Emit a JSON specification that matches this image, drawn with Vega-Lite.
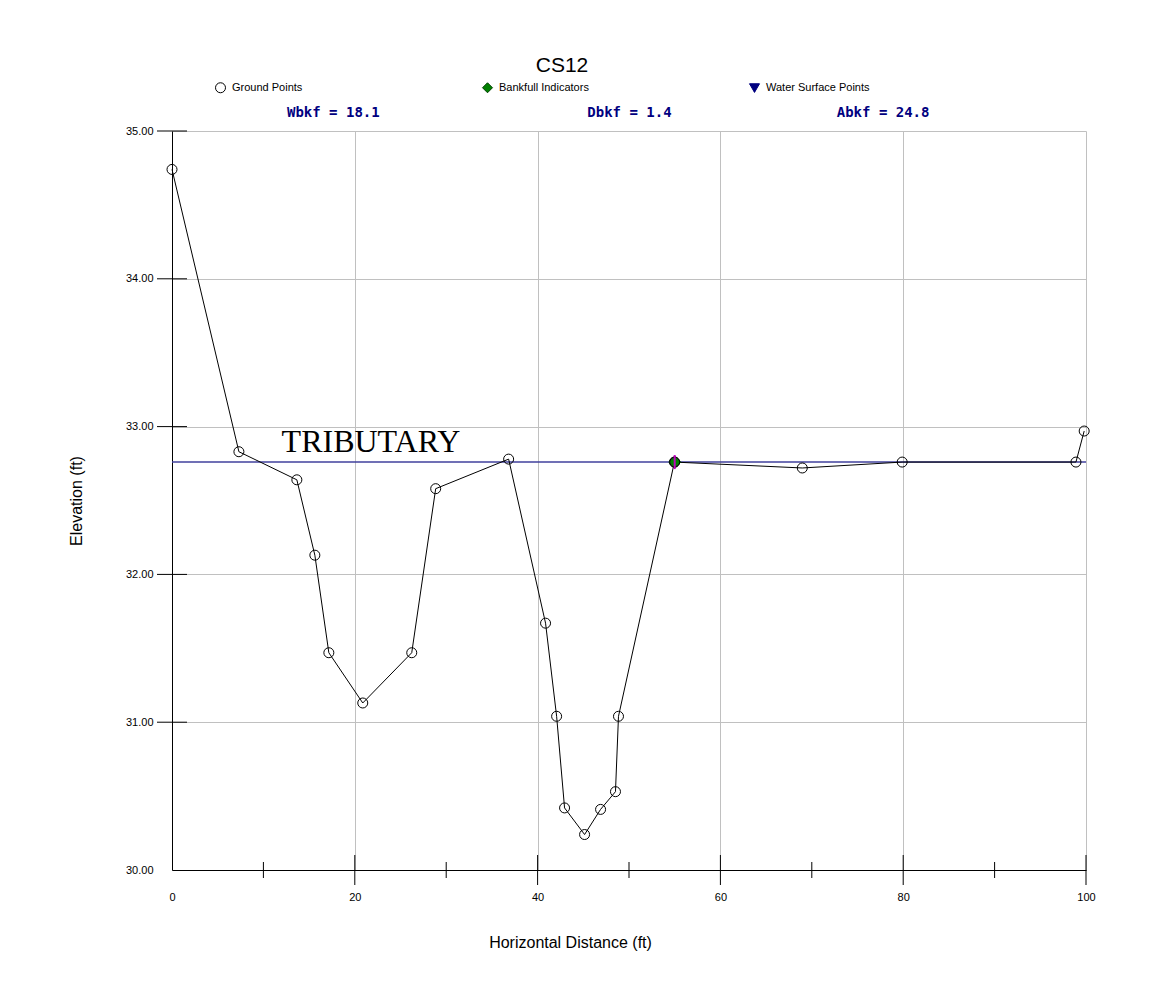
{
  "$schema": "https://vega.github.io/schema/vega-lite/v6.json",
  "width": 914,
  "height": 739,
  "autosize": {"type": "none"},
  "padding": {"left": 172, "top": 131, "right": 70, "bottom": 123},
  "background": "white",
  "title": {
    "text": "CS12",
    "font": "Liberation Sans",
    "fontSize": 21,
    "fontWeight": "normal",
    "color": "black",
    "anchor": "middle",
    "dx": -67,
    "offset": -11,
    "baseline": "alphabetic"
  },
  "config": {
    "view": {"stroke": null},
    "font": "Liberation Sans",
    "axis": {
      "domainColor": "black",
      "domainWidth": 1,
      "gridColor": "#c0c0c0",
      "gridWidth": 1,
      "tickSize": 15,
      "tickOpacity": 0,
      "labelFont": "Liberation Sans",
      "labelFontSize": 11,
      "labelColor": "black",
      "titleFont": "Liberation Sans",
      "titleFontSize": 16,
      "titleFontWeight": "normal",
      "titleColor": "black"
    }
  },
  "layer": [
    {
      "data": {"values": [{"elev": 32.76}]},
      "mark": {"type": "rule", "color": "#40409c", "strokeWidth": 1.5},
      "encoding": {"y": {"field": "elev", "type": "quantitative"}}
    },
    {
      "data": {"name": "ground", "values": [
        {"dist": 0.0, "elev": 34.74},
        {"dist": 7.32, "elev": 32.83},
        {"dist": 13.66, "elev": 32.64},
        {"dist": 15.63, "elev": 32.13},
        {"dist": 17.16, "elev": 31.47},
        {"dist": 20.87, "elev": 31.13},
        {"dist": 26.23, "elev": 31.47},
        {"dist": 28.85, "elev": 32.58},
        {"dist": 36.83, "elev": 32.78},
        {"dist": 40.87, "elev": 31.67},
        {"dist": 42.08, "elev": 31.04},
        {"dist": 42.95, "elev": 30.42},
        {"dist": 45.14, "elev": 30.24},
        {"dist": 46.89, "elev": 30.41},
        {"dist": 48.52, "elev": 30.53},
        {"dist": 48.85, "elev": 31.04},
        {"dist": 54.97, "elev": 32.76},
        {"dist": 68.96, "elev": 32.72},
        {"dist": 79.89, "elev": 32.76},
        {"dist": 98.9, "elev": 32.76},
        {"dist": 99.8, "elev": 32.97}
      ]},
      "layer": [
        {
          "mark": {"type": "line", "color": "black", "strokeWidth": 1},
          "encoding": {
            "x": {
              "field": "dist",
              "type": "quantitative",
              "scale": {"domain": [0, 100], "nice": false, "zero": false},
              "axis": {
                "title": "Horizontal Distance (ft)",
                "values": [0, 20, 40, 60, 80, 100],
                "grid": true,
                "labelPadding": 6,
                "labelFlush": false,
                "titleX": 398,
                "titlePadding": 32
              }
            },
            "y": {
              "field": "elev",
              "type": "quantitative",
              "scale": {"domain": [30, 35], "nice": false, "zero": false},
              "axis": {
                "title": "Elevation (ft)",
                "values": [30, 31, 32, 33, 34, 35],
                "format": ".2f",
                "grid": true,
                "labelPadding": 4,
                "titlePadding": 41
              }
            }
          }
        },
        {
          "mark": {"type": "point", "filled": false, "size": 100, "strokeWidth": 1, "opacity": 1},
          "encoding": {
            "x": {"field": "dist", "type": "quantitative"},
            "y": {"field": "elev", "type": "quantitative"},
            "shape": {
              "datum": "Ground Points",
              "scale": {
                "domain": ["Ground Points", "Bankfull Indicators", "Water Surface Points"],
                "range": ["circle", "diamond", "triangle-down"]
              },
              "legend": {
                "title": null,
                "orient": "none",
                "legendX": 43,
                "legendY": -49,
                "direction": "horizontal",
                "columns": 3,
                "gridAlign": "all",
                "columnPadding": 144,
                "padding": 0,
                "symbolSize": 100,
                "symbolStrokeWidth": 1,
                "symbolOpacity": 1,
                "labelOffset": 6,
                "labelFont": "Liberation Sans",
                "labelFontSize": 11,
                "labelColor": "black"
              }
            },
            "fill": {
              "datum": "Ground Points",
              "scale": {
                "domain": ["Ground Points", "Bankfull Indicators", "Water Surface Points"],
                "range": ["transparent", "#008000", "#000080"]
              },
              "legend": {"title": null}
            },
            "stroke": {
              "datum": "Ground Points",
              "scale": {
                "domain": ["Ground Points", "Bankfull Indicators", "Water Surface Points"],
                "range": ["#000000", "#004000", "#000080"]
              },
              "legend": {"title": null}
            }
          }
        }
      ]
    },
    {
      "data": {"values": [{"dist": 55.0, "elev": 32.76}]},
      "layer": [
        {
          "mark": {"type": "point", "filled": true, "size": 140, "strokeWidth": 1, "opacity": 1},
          "encoding": {
            "x": {"field": "dist", "type": "quantitative"},
            "y": {"field": "elev", "type": "quantitative"},
            "shape": {"datum": "Bankfull Indicators"},
            "fill": {"datum": "Bankfull Indicators"},
            "stroke": {"datum": "Bankfull Indicators"}
          }
        },
        {
          "mark": {"type": "point", "filled": false, "size": 100, "strokeWidth": 1, "opacity": 1, "shape": "circle", "color": "black"},
          "encoding": {
            "x": {"field": "dist", "type": "quantitative"},
            "y": {"field": "elev", "type": "quantitative"}
          }
        },
        {
          "mark": {"type": "tick", "orient": "vertical", "size": 14, "thickness": 2, "color": "#c000c0", "opacity": 1},
          "encoding": {
            "x": {"field": "dist", "type": "quantitative"},
            "y": {"field": "elev", "type": "quantitative"}
          }
        }
      ]
    },
    {
      "data": {"values": [{"dist": 20}, {"dist": 40}, {"dist": 60}, {"dist": 80}, {"dist": 100}]},
      "mark": {"type": "tick", "orient": "vertical", "size": 30, "thickness": 1, "color": "black", "opacity": 1},
      "encoding": {
        "x": {"field": "dist", "type": "quantitative"},
        "y": {"datum": 30}
      }
    },
    {
      "data": {"values": [{"dist": 10}, {"dist": 30}, {"dist": 50}, {"dist": 70}, {"dist": 90}]},
      "mark": {"type": "tick", "orient": "vertical", "size": 16, "thickness": 1, "color": "black", "opacity": 1},
      "encoding": {
        "x": {"field": "dist", "type": "quantitative"},
        "y": {"datum": 30}
      }
    },
    {
      "data": {"values": [{"elev": 31}, {"elev": 32}, {"elev": 33}, {"elev": 34}, {"elev": 35}]},
      "mark": {"type": "tick", "orient": "horizontal", "size": 30, "thickness": 1, "color": "black", "opacity": 1},
      "encoding": {
        "y": {"field": "elev", "type": "quantitative"},
        "x": {"datum": 0}
      }
    },
    {
      "data": {"values": [{"label": "TRIBUTARY"}]},
      "mark": {"type": "text", "font": "Liberation Serif", "fontSize": 32, "align": "center", "baseline": "alphabetic", "color": "black"},
      "encoding": {
        "x": {"datum": 21.77},
        "y": {"datum": 32.83},
        "text": {"field": "label"}
      }
    },
    {
      "data": {"values": [{"label": "Wbkf = 18.1"}]},
      "mark": {"type": "text", "font": "DejaVu Sans Mono", "fontWeight": "bold", "fontSize": 14, "align": "center", "baseline": "middle", "color": "#000080"},
      "encoding": {"x": {"datum": 17.65}, "y": {"datum": 35.12}, "text": {"field": "label"}}
    },
    {
      "data": {"values": [{"label": "Dbkf = 1.4"}]},
      "mark": {"type": "text", "font": "DejaVu Sans Mono", "fontWeight": "bold", "fontSize": 14, "align": "center", "baseline": "middle", "color": "#000080"},
      "encoding": {"x": {"datum": 50.05}, "y": {"datum": 35.12}, "text": {"field": "label"}}
    },
    {
      "data": {"values": [{"label": "Abkf = 24.8"}]},
      "mark": {"type": "text", "font": "DejaVu Sans Mono", "fontWeight": "bold", "fontSize": 14, "align": "center", "baseline": "middle", "color": "#000080"},
      "encoding": {"x": {"datum": 77.8}, "y": {"datum": 35.12}, "text": {"field": "label"}}
    }
  ]
}
